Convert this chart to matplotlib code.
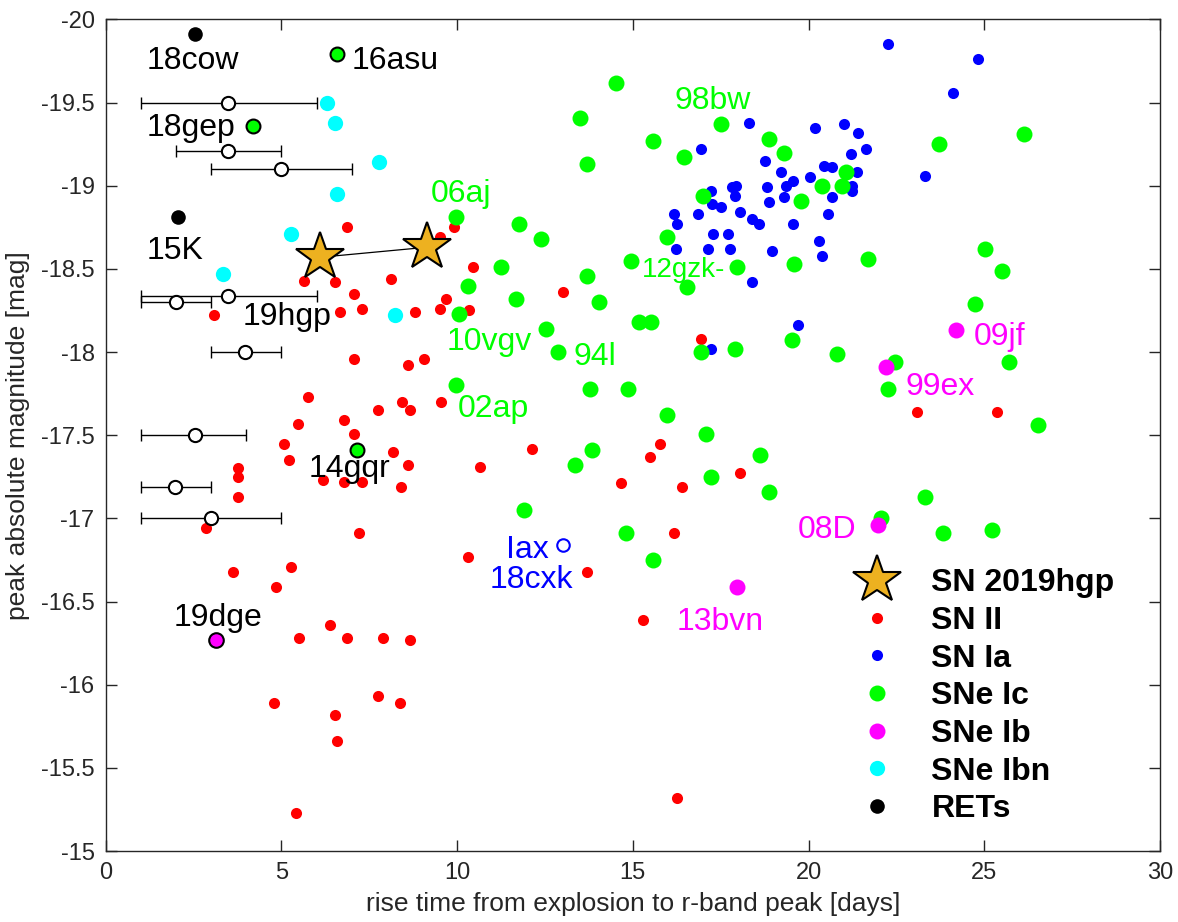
import matplotlib
matplotlib.use("Agg")
import matplotlib.pyplot as plt
import numpy as np

plt.rcParams['font.family'] = ['Liberation Sans', 'DejaVu Sans']
plt.rcParams['axes.unicode_minus'] = False

# ---- data: rise time [days], peak absolute magnitude [mag] ----
sn2019hgp_t = [6.10, 9.13]
sn2019hgp_m = [-18.57, -18.63]

snII_t = [6.86, 9.90, 9.50, 10.46, 5.63, 6.52, 8.11, 7.07, 9.69, 3.08, 6.66, 7.28,
          8.80, 9.50, 10.35, 13.00, 16.94, 7.07, 8.60, 9.07, 5.76, 8.44, 8.65, 9.55,
          7.76, 5.48, 6.79, 7.07, 5.07, 5.21, 8.17, 8.60, 10.66, 3.76, 3.76, 3.76,
          6.18, 6.79, 7.28, 8.39, 2.85, 7.21, 10.30, 3.63, 5.26, 4.86, 6.39, 5.49,
          6.86, 7.90, 8.65, 4.79, 7.76, 8.38, 6.52, 6.58, 5.43, 12.12, 15.78, 15.50,
          14.67, 16.39, 18.04, 16.17, 13.71, 15.28, 16.25, 23.09, 25.36]
snII_m = [-18.75, -18.75, -18.69, -18.51, -18.43, -18.42, -18.44, -18.35, -18.32, -18.22, -18.24, -18.26,
          -18.24, -18.26, -18.25, -18.36, -18.08, -17.96, -17.92, -17.96, -17.73, -17.70, -17.65, -17.70,
          -17.65, -17.57, -17.59, -17.51, -17.45, -17.35, -17.40, -17.32, -17.31, -17.30, -17.25, -17.13,
          -17.23, -17.22, -17.22, -17.19, -16.94, -16.91, -16.77, -16.68, -16.71, -16.59, -16.36, -16.28,
          -16.28, -16.28, -16.27, -15.89, -15.93, -15.89, -15.82, -15.66, -15.23, -17.42, -17.45, -17.37,
          -17.21, -17.19, -17.27, -16.91, -16.68, -16.39, -15.32, -17.64, -17.64]

snIa_t = [18.30, 16.93, 18.75, 19.22, 19.35, 19.55, 18.81, 19.30, 18.87, 19.56, 17.23, 17.81,
          17.93, 17.91, 17.26, 17.50, 16.86, 18.04, 18.38, 18.59, 16.18, 16.25, 17.28, 17.71,
          16.24, 17.15, 17.76, 18.95, 18.40, 22.26, 24.81, 24.12, 20.18, 21.01, 21.42, 21.63,
          21.21, 20.44, 20.67, 21.37, 20.05, 21.25, 21.24, 20.67, 20.54, 20.31, 20.39, 23.30,
          19.70, 17.22]
snIa_m = [-19.38, -19.22, -19.15, -19.08, -19.00, -19.03, -18.99, -18.93, -18.90, -18.77, -18.97, -18.99,
          -19.00, -18.94, -18.89, -18.87, -18.83, -18.84, -18.80, -18.77, -18.83, -18.77, -18.71, -18.71,
          -18.62, -18.62, -18.62, -18.61, -18.42, -19.85, -19.76, -19.56, -19.35, -19.37, -19.32, -19.22,
          -19.19, -19.12, -19.11, -19.08, -19.05, -19.00, -18.97, -18.93, -18.83, -18.67, -18.58, -19.06,
          -18.16, -18.02]

snIc_t = [9.97, 10.30, 11.25, 14.53, 13.49, 13.71, 15.56, 16.46, 17.50, 18.87, 19.30, 17.00,
          19.78, 11.77, 12.39, 15.97, 14.94, 17.97, 16.53, 19.60, 13.71, 14.04, 11.69, 10.05,
          15.19, 15.51, 12.53, 12.88, 16.94, 17.91, 19.54, 9.97, 13.78, 14.87, 15.97, 17.07,
          13.83, 13.36, 18.61, 17.22, 18.87, 11.91, 14.80, 15.56, 23.70, 26.13, 21.08, 20.39,
          20.94, 21.69, 25.02, 25.50, 24.75, 20.81, 22.45, 22.25, 25.71, 26.54, 23.30, 22.05,
          23.84, 25.23]
snIc_m = [-18.81, -18.40, -18.51, -19.62, -19.41, -19.13, -19.27, -19.17, -19.37, -19.28, -19.20, -18.94,
          -18.91, -18.77, -18.68, -18.69, -18.55, -18.51, -18.39, -18.53, -18.46, -18.30, -18.32, -18.23,
          -18.18, -18.18, -18.14, -18.00, -18.00, -18.02, -18.07, -17.80, -17.78, -17.78, -17.62, -17.51,
          -17.41, -17.32, -17.38, -17.25, -17.16, -17.05, -16.91, -16.75, -19.25, -19.31, -19.08, -19.00,
          -19.00, -18.56, -18.62, -18.49, -18.29, -17.99, -17.94, -17.78, -17.94, -17.56, -17.13, -17.00,
          -16.91, -16.93]

snIb_t = [24.19, 22.19, 21.98, 17.97]
snIb_m = [-18.13, -17.91, -16.96, -16.59]

snIbn_t = [6.31, 6.52, 7.77, 6.59, 5.27, 3.34, 8.24]
snIbn_m = [-19.50, -19.38, -19.14, -18.95, -18.71, -18.47, -18.22]

# RETs with known rise times
ret_t = [2.54, 2.05]
ret_m = [-19.91, -18.81]

# RETs with rise-time ranges
ret_rng_t = [3.48, 3.48, 5.00, 3.48, 2.00, 3.96, 2.54, 1.97, 3.01]
ret_rng_lo = [1.0, 2.0, 3.0, 1.0, 1.0, 3.0, 1.0, 1.0, 1.0]
ret_rng_hi = [6.0, 5.0, 7.0, 6.0, 3.0, 5.0, 4.0, 3.0, 5.0]
ret_rng_m = [-19.50, -19.21, -19.10, -18.34, -18.30, -18.00, -17.50, -17.19, -17.00]

# fast-rising objects with black outline
fast_ic_t = [6.58, 4.19, 7.15]
fast_ic_m = [-19.79, -19.36, -17.41]
fast_ib_t = [3.13]
fast_ib_m = [-16.27]

# SN Iax 2018cxk
iax_t = [13.01]
iax_m = [-16.84]

# name labels: text, x, y, colour, size
label_txt = ['18cow', '16asu', '18gep', '15K', '19hgp', '14gqr', '19dge',
             '06aj', '98bw', '12gzk-', '10vgv', '94l', '02ap',
             'Iax', '18cxk', '13bvn', '09jf', '99ex', '08D']
label_x = [1.17, 6.99, 1.17, 1.17, 3.89, 5.78, 1.94,
           9.26, 16.20, 15.27, 9.69, 13.30, 10.02,
           11.39, 10.92, 16.24, 24.70, 22.77, 19.68]
label_y = [-19.70, -19.70, -19.30, -18.56, -18.16, -17.25, -16.35,
           -18.90, -19.46, -18.45, -18.01, -17.92, -17.61,
           -16.76, -16.58, -16.33, -18.04, -17.74, -16.88]
label_col = ['k', 'k', 'k', 'k', 'k', 'k', 'k',
             '#00ff00', '#00ff00', '#00ff00', '#00ff00', '#00ff00', '#00ff00',
             '#0000ff', '#0000ff', '#ff00ff', '#ff00ff', '#ff00ff', '#ff00ff']
label_size = [23, 23, 23, 23, 23, 23, 23,
              23, 23, 20, 23, 23, 23,
              23, 23, 23, 23, 23, 23]

# ---- figure ----
fig = plt.figure(figsize=(11.78, 9.22), dpi=100)
ax = fig.add_axes([0.0897, 0.0770, 0.8950, 0.9019])

green = '#00ff00'
magenta = '#ff00ff'
cyan = '#00ffff'
gold = '#edb120'

h_ii, = ax.plot(snII_t, snII_m, 'o', color='#ff0000', ms=8, mec='none', ls='none', zorder=3)
h_ia, = ax.plot(snIa_t, snIa_m, 'o', color='#0000ff', ms=8, mec='none', ls='none', zorder=3)
h_ic, = ax.plot(snIc_t, snIc_m, 'o', color=green, ms=11.5, mec='none', ls='none', zorder=4)
h_ib, = ax.plot(snIb_t, snIb_m, 'o', color=magenta, ms=11.5, mec='none', ls='none', zorder=5)
h_ibn, = ax.plot(snIbn_t, snIbn_m, 'o', color=cyan, ms=11, mec='none', ls='none', zorder=5)
h_ret, = ax.plot(ret_t, ret_m, 'o', color='k', ms=10.5, mec='none', ls='none', zorder=5)

ax.plot(fast_ic_t, fast_ic_m, 'o', mfc=green, mec='k', mew=1.5, ms=10, ls='none', zorder=6)
ax.plot(fast_ib_t, fast_ib_m, 'o', mfc=magenta, mec='k', mew=1.5, ms=10.5, ls='none', zorder=6)

xerr = [np.array(ret_rng_t) - np.array(ret_rng_lo), np.array(ret_rng_hi) - np.array(ret_rng_t)]
ax.errorbar(ret_rng_t, ret_rng_m, xerr=xerr, fmt='none', ecolor='k', elinewidth=1,
            capsize=4, capthick=1, zorder=6)
ax.plot(ret_rng_t, ret_rng_m, 'o', mfc='white', mec='k', mew=1.5, ms=9.5, ls='none', zorder=7)

ax.plot(iax_t, iax_m, 'o', mfc='white', mec='#0000ff', mew=1.5, ms=9, ls='none', zorder=6)

ax.plot(sn2019hgp_t, sn2019hgp_m, '-', color='k', lw=0.9, zorder=8)
h_star, = ax.plot(sn2019hgp_t, sn2019hgp_m, '*', mfc=gold, mec='k', mew=1.5, ms=36,
                  ls='none', zorder=9)

for t, x, y, c, s in zip(label_txt, label_x, label_y, label_col, label_size):
    ax.text(x, y, t, color=c, fontsize=s, ha='left', va='baseline', zorder=10)

ax.set_xlim(0, 30)
ax.set_ylim(-15, -20)
ax.set_xticks(np.arange(0, 31, 5))
ax.set_yticks(np.arange(-20, -14.9, 0.5))
ax.set_yticklabels(['%g' % v for v in np.arange(-20, -14.9, 0.5)])

axis_col = '#262626'
for sp in ax.spines.values():
    sp.set_color(axis_col)
    sp.set_linewidth(1.0)
ax.tick_params(direction='in', length=8, width=1, color=axis_col, labelcolor=axis_col,
               labelsize=17, pad=8, top=True, right=True)

ax.set_xlabel('rise time from explosion to r-band peak [days]', fontsize=19,
              color=axis_col, labelpad=6)
ax.set_ylabel('peak absolute magnitude [mag]', fontsize=19, color=axis_col, labelpad=8)

leg = ax.legend([h_star, h_ii, h_ia, h_ic, h_ib, h_ibn, h_ret],
                ['SN 2019hgp', 'SN II', 'SN Ia', 'SNe Ic', 'SNe Ib', 'SNe Ibn', 'RETs'],
                loc='upper left', bbox_to_anchor=(0.709, 0.340), frameon=False,
                prop={'weight': 'bold', 'size': 23}, handlelength=1.5,
                handletextpad=0.95, labelspacing=0.24, borderpad=0, borderaxespad=0,
                numpoints=1)

fig.savefig('out.png', dpi=100)
